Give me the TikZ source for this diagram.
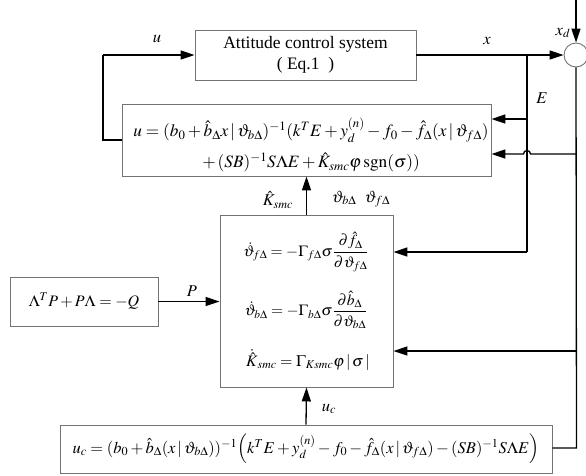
\documentclass[tikz,border=0pt]{standalone}
\IfFileExists{mathptmx.sty}{\usepackage{mathptmx}}{}
\usepackage{fontspec}
\setmainfont{Liberation Serif}
\usetikzlibrary{arrows.meta}
\begin{document}
\begin{tikzpicture}[x=1pt,y=-1pt,
  box/.style={draw=black!55,line width=0.9pt,inner sep=0pt},
  ln/.style={line width=1.3pt},
  arr/.style={ln,-{Triangle[length=14pt,width=9pt]}},
  lab/.style={inner sep=0pt},
  font=\fontsize{16.5}{20}\selectfont]
\useasboundingbox (0,0) rectangle (586,475);

% boxes
\node[box,minimum width=221pt,minimum height=50pt,align=center,font=\fontsize{17.5}{21}\selectfont] (att) at (305.5,55)
  {Attitude control system\\( Eq.1\ \ )};
\node[box,minimum width=369pt,minimum height=72pt] (ctrl) at (306.5,140) {};
\node[lab,align=center,font=\fontsize{17.3}{21}\selectfont] (ctrltxt) at (311,145)
  {$u=(b_0+\hat b_\Delta x\,|\,\vartheta_{b\Delta})^{-1}(k^TE+y_d^{(n)}-f_0-\hat f_\Delta(x\,|\,\vartheta_{f\Delta})$\\[10pt]
   $+\,(SB)^{-1}S\Lambda E+\hat K_{smc}\varphi\,\mathrm{sgn}(\sigma))$};
\node[box,minimum width=173pt,minimum height=172pt] (adapt) at (306.5,301) {};
\node[lab,font=\fontsize{15.5}{19}\selectfont] (e1) at (306,252) {$\displaystyle\dot\vartheta_{f\Delta}=-\Gamma_{f\Delta}\sigma\frac{\partial\hat f_\Delta}{\partial\vartheta_{f\Delta}}$};
\node[lab,font=\fontsize{15.5}{19}\selectfont] (e2) at (306,310) {$\displaystyle\dot\vartheta_{b\Delta}=-\Gamma_{b\Delta}\sigma\frac{\partial\hat b_\Delta}{\partial\vartheta_{b\Delta}}$};
\node[lab,font=\fontsize{16}{19}\selectfont] (e3) at (308,360) {$\dot{\hat K}_{smc}=\Gamma_{Ksmc}\varphi\,|\,\sigma\,|$};
\node[box,minimum width=148pt,minimum height=49pt,font=\fontsize{16}{20}\selectfont] (lyap) at (84,301.5) {$\Lambda^TP+P\Lambda=-Q$};
\node[box,minimum width=492pt,minimum height=48pt] (uc) at (306,449)
  {$u_c=(b_0+\hat b_\Delta(x\,|\,\vartheta_{b\Delta}))^{-1}\Bigl(k^TE+y_d^{(n)}-f_0-\hat f_\Delta(x\,|\,\vartheta_{f\Delta})-(SB)^{-1}S\Lambda E\Bigr)$};
\node[draw=black!55,line width=0.9pt,circle,minimum size=24pt,inner sep=0pt] (sum) at (576,55) {};

% coordinates
\coordinate (top) at (576,0);
\coordinate (br) at (527,55);
\coordinate (bE) at (527,252);
\coordinate (b1) at (527,119);
\coordinate (r1) at (576.5,154);
\coordinate (r2) at (576.5,351);
\coordinate (r3) at (576.5,448);
\coordinate (lu) at (103,140);
\coordinate (lt) at (103,55);

% connectors
\draw[arr] (top) -- (sum.north);
\draw[arr] (att.east) -- (sum.west);
\draw[ln] (br) -- (bE);
\draw[arr] (bE) -- (adapt.east |- bE);
\draw[arr] (b1) -- (ctrl.east |- b1);
\draw[ln] (sum.south) -- (r3) -- (uc.east |- r3);
\draw[arr] (r1) -- (530.5,154) arc (0:-180:3.5) -- (ctrl.east |- r1);
\draw[arr] (r2) -- (adapt.east |- r2);
\draw[arr] (lyap.east) -- (adapt.west |- lyap.east);
\draw[arr] (adapt.north) -- (ctrl.south);
\draw[arr] (uc.north) -- (adapt.south);
\draw[ln] (ctrl.west |- lu) -- (lu) -- (lt);
\draw[arr] (lt) -- (att.west);

% labels
\node[lab] (lx) at (487,41) {$x$};
\node[lab] (lxd) at (563,33) {$x_d$};
\node[lab] (lE) at (542,98) {$E$};
\node[lab] (lu0) at (157,39) {$u$};
\node[lab] (lP) at (192,291) {$P$};
\node[lab] (lK) at (278,200) {$\hat K_{smc}$};
\node[lab] (lth) at (361,199) {$\vartheta_{b\Delta}\ \ \vartheta_{f\Delta}$};
\node[lab] (luc) at (329,409) {$u_c$};
\end{tikzpicture}
\end{document}
